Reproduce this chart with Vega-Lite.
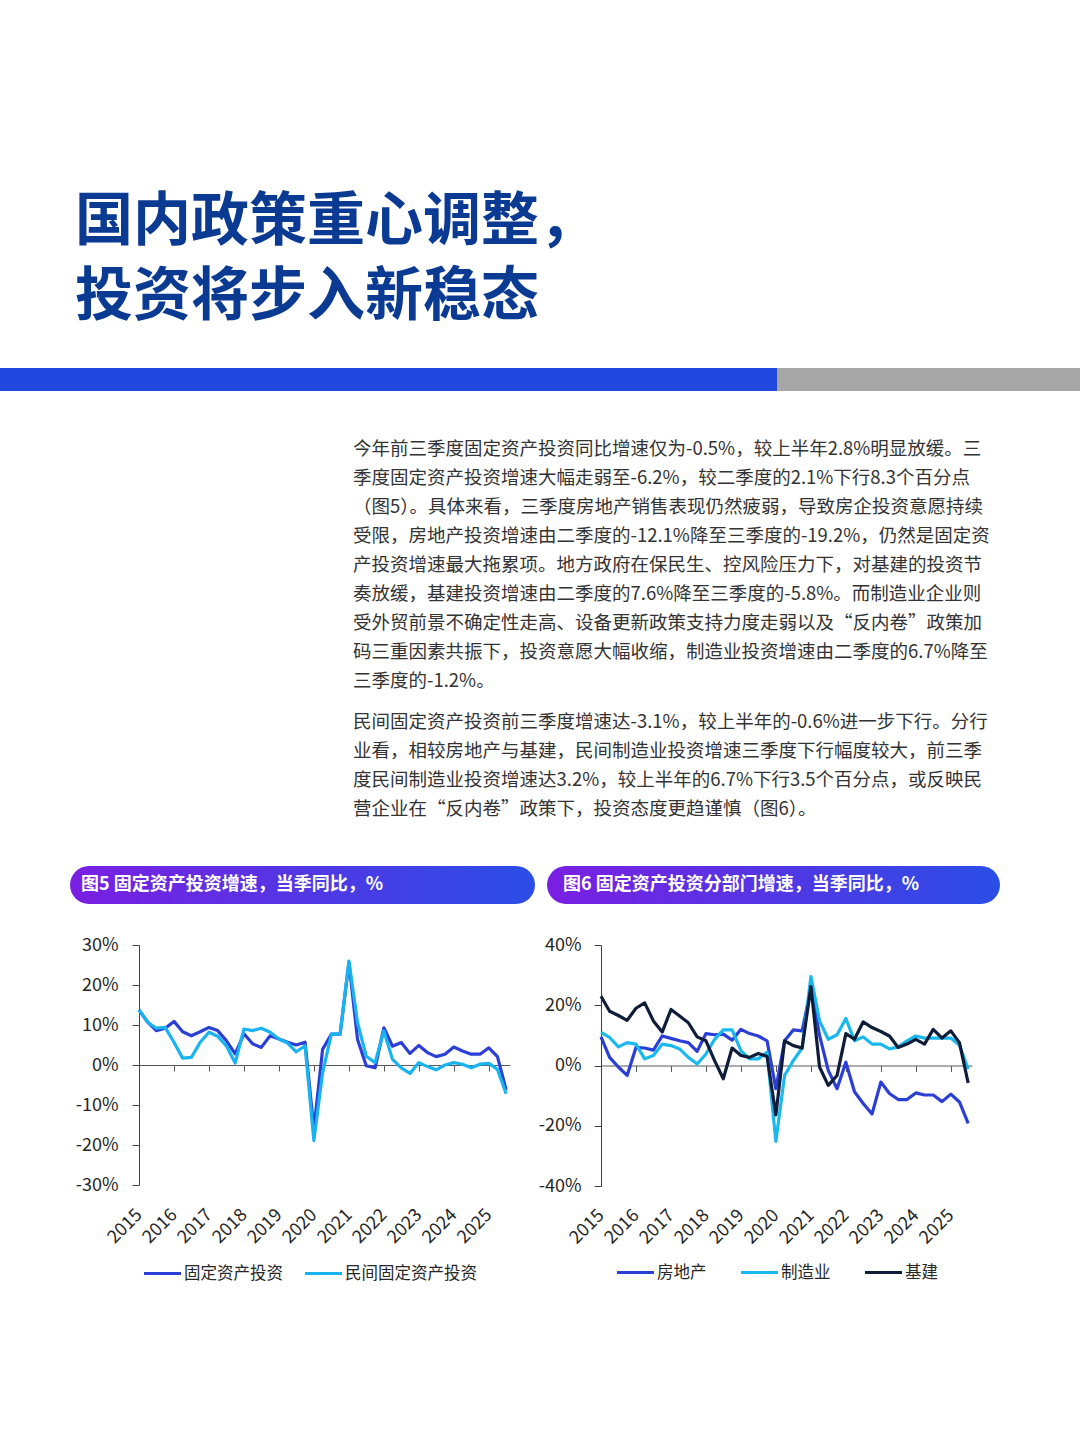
{
  "$schema": "https://vega.github.io/schema/vega-lite/v6.json",
  "background": "#ffffff",
  "padding": {"left": 0, "top": 194, "right": 0, "bottom": 0},
  "config": {
    "font": "Noto Sans CJK SC",
    "view": {"stroke": null},
    "axis": {"labelFont": "Noto Sans CJK SC", "labelFontSize": 18, "labelColor": "#262626", "domainColor": "#404040", "tickColor": "#404040", "grid": false},
    "legend": {"labelFont": "Noto Sans CJK SC", "labelFontSize": 16.5, "labelColor": "#262626", "symbolType": "stroke", "symbolSize": 1369, "symbolStrokeWidth": 4, "labelOffset": 1, "labelLimit": 300},
    "line": {"strokeWidth": 3.2, "strokeJoin": "round"}
  },
  "datasets": {
    "f5": [
      {"q":"2015-01-01","s":"固定资产投资","v":13.8},{"q":"2015-04-01","s":"固定资产投资","v":10.7},{"q":"2015-07-01","s":"固定资产投资","v":8.6},{"q":"2015-10-01","s":"固定资产投资","v":9.2},
      {"q":"2016-01-01","s":"固定资产投资","v":10.9},{"q":"2016-04-01","s":"固定资产投资","v":8.3},{"q":"2016-07-01","s":"固定资产投资","v":7.3},{"q":"2016-10-01","s":"固定资产投资","v":8.3},
      {"q":"2017-01-01","s":"固定资产投资","v":9.4},{"q":"2017-04-01","s":"固定资产投资","v":8.6},{"q":"2017-07-01","s":"固定资产投资","v":6.1},{"q":"2017-10-01","s":"固定资产投资","v":2.8},
      {"q":"2018-01-01","s":"固定资产投资","v":7.8},{"q":"2018-04-01","s":"固定资产投资","v":5.3},{"q":"2018-07-01","s":"固定资产投资","v":4.4},{"q":"2018-10-01","s":"固定资产投资","v":7.3},
      {"q":"2019-01-01","s":"固定资产投资","v":6.5},{"q":"2019-04-01","s":"固定资产投资","v":5.7},{"q":"2019-07-01","s":"固定资产投资","v":5.0},{"q":"2019-10-01","s":"固定资产投资","v":5.7},
      {"q":"2020-01-01","s":"固定资产投资","v":-16.1},{"q":"2020-04-01","s":"固定资产投资","v":3.9},{"q":"2020-07-01","s":"固定资产投资","v":7.7},{"q":"2020-10-01","s":"固定资产投资","v":7.7},
      {"q":"2021-01-01","s":"固定资产投资","v":25.6},{"q":"2021-04-01","s":"固定资产投资","v":6.4},{"q":"2021-07-01","s":"固定资产投资","v":-0.2},{"q":"2021-10-01","s":"固定资产投资","v":-0.7},
      {"q":"2022-01-01","s":"固定资产投资","v":9.3},{"q":"2022-04-01","s":"固定资产投资","v":4.7},{"q":"2022-07-01","s":"固定资产投资","v":5.6},{"q":"2022-10-01","s":"固定资产投资","v":2.9},
      {"q":"2023-01-01","s":"固定资产投资","v":4.9},{"q":"2023-04-01","s":"固定资产投资","v":3.1},{"q":"2023-07-01","s":"固定资产投资","v":2.1},{"q":"2023-10-01","s":"固定资产投资","v":2.7},
      {"q":"2024-01-01","s":"固定资产投资","v":4.5},{"q":"2024-04-01","s":"固定资产投资","v":3.5},{"q":"2024-07-01","s":"固定资产投资","v":2.7},{"q":"2024-10-01","s":"固定资产投资","v":2.7},
      {"q":"2025-01-01","s":"固定资产投资","v":4.3},{"q":"2025-04-01","s":"固定资产投资","v":2.1},{"q":"2025-07-01","s":"固定资产投资","v":-6.2},
      {"q":"2015-01-01","s":"民间固定资产投资","v":13.8},{"q":"2015-04-01","s":"民间固定资产投资","v":10.7},{"q":"2015-07-01","s":"民间固定资产投资","v":9.2},{"q":"2015-10-01","s":"民间固定资产投资","v":9.4},
      {"q":"2016-01-01","s":"民间固定资产投资","v":5.7},{"q":"2016-04-01","s":"民间固定资产投资","v":1.7},{"q":"2016-07-01","s":"民间固定资产投资","v":1.9},{"q":"2016-10-01","s":"民间固定资产投资","v":5.7},
      {"q":"2017-01-01","s":"民间固定资产投资","v":8.2},{"q":"2017-04-01","s":"民间固定资产投资","v":7.2},{"q":"2017-07-01","s":"民间固定资产投资","v":4.8},{"q":"2017-10-01","s":"民间固定资产投资","v":0.5},
      {"q":"2018-01-01","s":"民间固定资产投资","v":9.0},{"q":"2018-04-01","s":"民间固定资产投资","v":8.6},{"q":"2018-07-01","s":"民间固定资产投资","v":9.2},{"q":"2018-10-01","s":"民间固定资产投资","v":8.2},
      {"q":"2019-01-01","s":"民间固定资产投资","v":6.5},{"q":"2019-04-01","s":"民间固定资产投资","v":5.5},{"q":"2019-07-01","s":"民间固定资产投资","v":3.3},{"q":"2019-10-01","s":"民间固定资产投资","v":4.8},
      {"q":"2020-01-01","s":"民间固定资产投资","v":-18.9},{"q":"2020-04-01","s":"民间固定资产投资","v":-2.0},{"q":"2020-07-01","s":"民间固定资产投资","v":7.7},{"q":"2020-10-01","s":"民间固定资产投资","v":7.7},
      {"q":"2021-01-01","s":"民间固定资产投资","v":26.0},{"q":"2021-04-01","s":"民间固定资产投资","v":10.6},{"q":"2021-07-01","s":"民间固定资产投资","v":2.2},{"q":"2021-10-01","s":"民间固定资产投资","v":0.6},
      {"q":"2022-01-01","s":"民间固定资产投资","v":8.5},{"q":"2022-04-01","s":"民间固定资产投资","v":1.4},{"q":"2022-07-01","s":"民间固定资产投资","v":-0.7},{"q":"2022-10-01","s":"民间固定资产投资","v":-2.1},
      {"q":"2023-01-01","s":"民间固定资产投资","v":0.6},{"q":"2023-04-01","s":"民间固定资产投资","v":-0.4},{"q":"2023-07-01","s":"民间固定资产投资","v":-1.2},{"q":"2023-10-01","s":"民间固定资产投资","v":0.0},
      {"q":"2024-01-01","s":"民间固定资产投资","v":0.6},{"q":"2024-04-01","s":"民间固定资产投资","v":0.2},{"q":"2024-07-01","s":"民间固定资产投资","v":-0.7},{"q":"2024-10-01","s":"民间固定资产投资","v":0.2},
      {"q":"2025-01-01","s":"民间固定资产投资","v":0.4},{"q":"2025-04-01","s":"民间固定资产投资","v":-1.1},{"q":"2025-07-01","s":"民间固定资产投资","v":-7.2}
    ],
    "f6": [
      {"q":"2015-01-01","s":"房地产","v":9.5},{"q":"2015-04-01","s":"房地产","v":2.7},{"q":"2015-07-01","s":"房地产","v":-0.5},{"q":"2015-10-01","s":"房地产","v":-3.3},
      {"q":"2016-01-01","s":"房地产","v":6.0},{"q":"2016-04-01","s":"房地产","v":5.8},{"q":"2016-07-01","s":"房地产","v":5.1},{"q":"2016-10-01","s":"房地产","v":9.8},
      {"q":"2017-01-01","s":"房地产","v":9.0},{"q":"2017-04-01","s":"房地产","v":8.2},{"q":"2017-07-01","s":"房地产","v":7.6},{"q":"2017-10-01","s":"房地产","v":4.7},
      {"q":"2018-01-01","s":"房地产","v":10.6},{"q":"2018-04-01","s":"房地产","v":10.2},{"q":"2018-07-01","s":"房地产","v":10.4},{"q":"2018-10-01","s":"房地产","v":8.4},
      {"q":"2019-01-01","s":"房地产","v":12.0},{"q":"2019-04-01","s":"房地产","v":10.6},{"q":"2019-07-01","s":"房地产","v":9.8},{"q":"2019-10-01","s":"房地产","v":8.2},
      {"q":"2020-01-01","s":"房地产","v":-7.7},{"q":"2020-04-01","s":"房地产","v":8.2},{"q":"2020-07-01","s":"房地产","v":11.8},{"q":"2020-10-01","s":"房地产","v":11.5},
      {"q":"2021-01-01","s":"房地产","v":25.6},{"q":"2021-04-01","s":"房地产","v":10.0},{"q":"2021-07-01","s":"房地产","v":-1.6},{"q":"2021-10-01","s":"房地产","v":-7.7},
      {"q":"2022-01-01","s":"房地产","v":1.1},{"q":"2022-04-01","s":"房地产","v":-8.7},{"q":"2022-07-01","s":"房地产","v":-12.6},{"q":"2022-10-01","s":"房地产","v":-16.1},
      {"q":"2023-01-01","s":"房地产","v":-5.5},{"q":"2023-04-01","s":"房地产","v":-9.3},{"q":"2023-07-01","s":"房地产","v":-11.3},{"q":"2023-10-01","s":"房地产","v":-11.3},
      {"q":"2024-01-01","s":"房地产","v":-9.1},{"q":"2024-04-01","s":"房地产","v":-9.8},{"q":"2024-07-01","s":"房地产","v":-9.8},{"q":"2024-10-01","s":"房地产","v":-12.0},
      {"q":"2025-01-01","s":"房地产","v":-9.5},{"q":"2025-04-01","s":"房地产","v":-12.1},{"q":"2025-07-01","s":"房地产","v":-19.2},
      {"q":"2015-01-01","s":"制造业","v":11.0},{"q":"2015-04-01","s":"制造业","v":9.3},{"q":"2015-07-01","s":"制造业","v":6.2},{"q":"2015-10-01","s":"制造业","v":7.6},
      {"q":"2016-01-01","s":"制造业","v":7.1},{"q":"2016-04-01","s":"制造业","v":2.2},{"q":"2016-07-01","s":"制造业","v":3.3},{"q":"2016-10-01","s":"制造业","v":7.1},
      {"q":"2017-01-01","s":"制造业","v":6.6},{"q":"2017-04-01","s":"制造业","v":5.5},{"q":"2017-07-01","s":"制造业","v":2.7},{"q":"2017-10-01","s":"制造业","v":0.5},
      {"q":"2018-01-01","s":"制造业","v":3.8},{"q":"2018-04-01","s":"制造业","v":8.7},{"q":"2018-07-01","s":"制造业","v":11.8},{"q":"2018-10-01","s":"制造业","v":11.8},
      {"q":"2019-01-01","s":"制造业","v":4.9},{"q":"2019-04-01","s":"制造业","v":2.2},{"q":"2019-07-01","s":"制造业","v":2.2},{"q":"2019-10-01","s":"制造业","v":4.4},
      {"q":"2020-01-01","s":"制造业","v":-25.2},{"q":"2020-04-01","s":"制造业","v":-3.3},{"q":"2020-07-01","s":"制造业","v":1.6},{"q":"2020-10-01","s":"制造业","v":5.8},
      {"q":"2021-01-01","s":"制造业","v":29.5},{"q":"2021-04-01","s":"制造业","v":14.8},{"q":"2021-07-01","s":"制造业","v":8.7},{"q":"2021-10-01","s":"制造业","v":10.2},
      {"q":"2022-01-01","s":"制造业","v":15.6},{"q":"2022-04-01","s":"制造业","v":8.2},{"q":"2022-07-01","s":"制造业","v":9.5},{"q":"2022-10-01","s":"制造业","v":7.1},
      {"q":"2023-01-01","s":"制造业","v":7.1},{"q":"2023-04-01","s":"制造业","v":5.5},{"q":"2023-07-01","s":"制造业","v":6.2},{"q":"2023-10-01","s":"制造业","v":8.2},
      {"q":"2024-01-01","s":"制造业","v":9.8},{"q":"2024-04-01","s":"制造业","v":9.1},{"q":"2024-07-01","s":"制造业","v":9.1},{"q":"2024-10-01","s":"制造业","v":9.1},
      {"q":"2025-01-01","s":"制造业","v":9.1},{"q":"2025-04-01","s":"制造业","v":6.7},{"q":"2025-07-01","s":"制造业","v":-1.2},
      {"q":"2015-01-01","s":"基建","v":23.0},{"q":"2015-04-01","s":"基建","v":18.0},{"q":"2015-07-01","s":"基建","v":16.6},{"q":"2015-10-01","s":"基建","v":15.0},
      {"q":"2016-01-01","s":"基建","v":19.0},{"q":"2016-04-01","s":"基建","v":20.8},{"q":"2016-07-01","s":"基建","v":14.8},{"q":"2016-10-01","s":"基建","v":11.1},
      {"q":"2017-01-01","s":"基建","v":18.6},{"q":"2017-04-01","s":"基建","v":16.4},{"q":"2017-07-01","s":"基建","v":14.2},{"q":"2017-10-01","s":"基建","v":9.5},
      {"q":"2018-01-01","s":"基建","v":8.2},{"q":"2018-04-01","s":"基建","v":1.6},{"q":"2018-07-01","s":"基建","v":-4.4},{"q":"2018-10-01","s":"基建","v":5.8},
      {"q":"2019-01-01","s":"基建","v":3.3},{"q":"2019-04-01","s":"基建","v":2.7},{"q":"2019-07-01","s":"基建","v":4.0},{"q":"2019-10-01","s":"基建","v":3.0},
      {"q":"2020-01-01","s":"基建","v":-16.4},{"q":"2020-04-01","s":"基建","v":8.2},{"q":"2020-07-01","s":"基建","v":6.6},{"q":"2020-10-01","s":"基建","v":5.8},
      {"q":"2021-01-01","s":"基建","v":26.2},{"q":"2021-04-01","s":"基建","v":-0.5},{"q":"2021-07-01","s":"基建","v":-6.6},{"q":"2021-10-01","s":"基建","v":-3.3},
      {"q":"2022-01-01","s":"基建","v":10.6},{"q":"2022-04-01","s":"基建","v":8.7},{"q":"2022-07-01","s":"基建","v":14.5},{"q":"2022-10-01","s":"基建","v":12.6},
      {"q":"2023-01-01","s":"基建","v":11.3},{"q":"2023-04-01","s":"基建","v":9.8},{"q":"2023-07-01","s":"基建","v":6.0},{"q":"2023-10-01","s":"基建","v":7.1},
      {"q":"2024-01-01","s":"基建","v":8.7},{"q":"2024-04-01","s":"基建","v":7.1},{"q":"2024-07-01","s":"基建","v":12.0},{"q":"2024-10-01","s":"基建","v":9.1},
      {"q":"2025-01-01","s":"基建","v":11.5},{"q":"2025-04-01","s":"基建","v":7.6},{"q":"2025-07-01","s":"基建","v":-5.8}
    ]
  },
  "spacing": 32,
  "vconcat": [
    {
      "title": {
        "text": ["国内政策重心调整，", "投资将步入新稳态"],
        "anchor": "start", "frame": "group", "dx": 75,
        "font": "Noto Sans CJK SC", "fontSize": 58, "fontWeight": "bold",
        "color": "#0a3a92", "lineHeight": 75, "offset": 41
      },
      "spacing": 0,
      "hconcat": [
        {
          "width": 777, "height": 40,
          "data": {"values": [{"part": "蓝"}]},
          "mark": {"type": "rect", "color": "#2149e0"},
          "encoding": {"x": {"value": 0}, "x2": {"value": "width"}, "y": {"value": 0}, "y2": {"value": 23}}
        },
        {
          "width": 303, "height": 40,
          "data": {"values": [{"part": "灰"}]},
          "mark": {"type": "rect", "color": "#a6a6a6"},
          "encoding": {"x": {"value": 0}, "x2": {"value": "width"}, "y": {"value": 0}, "y2": {"value": 23}}
        }
      ]
    },
    {
      "title": {
        "text": [
          "今年前三季度固定资产投资同比增速仅为-0.5%，较上半年2.8%明显放缓。三",
          "季度固定资产投资增速大幅走弱至-6.2%，较二季度的2.1%下行8.3个百分点",
          "（图5）。具体来看，三季度房地产销售表现仍然疲弱，导致房企投资意愿持续",
          "受限，房地产投资增速由二季度的-12.1%降至三季度的-19.2%，仍然是固定资",
          "产投资增速最大拖累项。地方政府在保民生、控风险压力下，对基建的投资节",
          "奏放缓，基建投资增速由二季度的7.6%降至三季度的-5.8%。而制造业企业则",
          "受外贸前景不确定性走高、设备更新政策支持力度走弱以及“反内卷”政策加",
          "码三重因素共振下，投资意愿大幅收缩，制造业投资增速由二季度的6.7%降至",
          "三季度的-1.2%。"
        ],
        "subtitle": [
          "民间固定资产投资前三季度增速达-3.1%，较上半年的-0.6%进一步下行。分行",
          "业看，相较房地产与基建，民间制造业投资增速三季度下行幅度较大，前三季",
          "度民间制造业投资增速达3.2%，较上半年的6.7%下行3.5个百分点，或反映民",
          "营企业在“反内卷”政策下，投资态度更趋谨慎（图6）。"
        ],
        "anchor": "start", "frame": "group", "dx": 353,
        "font": "Noto Sans CJK SC", "fontSize": 18.5, "fontWeight": "normal", "color": "#333333", "lineHeight": 29,
        "subtitleFont": "Noto Sans CJK SC", "subtitleFontSize": 18.5, "subtitleColor": "#333333", "subtitleLineHeight": 29,
        "subtitlePadding": 22, "offset": 48
      },
      "spacing": 12,
      "hconcat": [
        {
          "width": 535, "height": 38,
          "data": {"values": [{"label": "图5 固定资产投资增速，当季同比，%"}]},
          "layer": [
            {
              "mark": {"type": "rect", "cornerRadius": 19,
                "color": {"gradient": "linear", "x1": 0, "y1": 0, "x2": 1, "y2": 0,
                  "stops": [{"offset": 0, "color": "#7a1fe2"}, {"offset": 1, "color": "#2a4ee6"}]}},
              "encoding": {"x": {"value": 70}, "x2": {"value": "width"}, "y": {"value": 0}, "y2": {"value": "height"}}
            },
            {
              "mark": {"type": "text", "align": "left", "baseline": "middle", "fontSize": 18, "fontWeight": "bold", "color": "#ffffff"},
              "encoding": {"text": {"field": "label"}, "x": {"value": 81}, "y": {"value": 19}}
            }
          ]
        },
        {
          "width": 453, "height": 38,
          "data": {"values": [{"label": "图6 固定资产投资分部门增速，当季同比，%"}]},
          "layer": [
            {
              "mark": {"type": "rect", "cornerRadius": 19,
                "color": {"gradient": "linear", "x1": 0, "y1": 0, "x2": 1, "y2": 0,
                  "stops": [{"offset": 0, "color": "#7a1fe2"}, {"offset": 1, "color": "#2a4ee6"}]}},
              "encoding": {"x": {"value": 0}, "x2": {"value": "width"}, "y": {"value": 0}, "y2": {"value": "height"}}
            },
            {
              "mark": {"type": "text", "align": "left", "baseline": "middle", "fontSize": 18, "fontWeight": "bold", "color": "#ffffff"},
              "encoding": {"text": {"field": "label"}, "x": {"value": 16}, "y": {"value": 19}}
            }
          ]
        }
      ]
    },
    {
      "bounds": "flush",
      "spacing": 91,
      "resolve": {"scale": {"color": "independent"}, "legend": {"color": "independent"}},
      "hconcat": [
        {
          "width": 48, "height": 240,
          "data": {"values": []},
          "mark": "point"
        },
        {
          "width": 371, "height": 240,
          "data": {"name": "f5"},
          "encoding": {
            "x": {
              "field": "q", "type": "temporal",
              "scale": {"type": "utc", "domain": [{"year": 2015, "month": 1, "date": 1, "utc": true}, {"year": 2025, "month": 8, "date": 10, "utc": true}]},
              "axis": {
                "orient": "bottom", "offset": -120, "title": null, "format": "%Y",
                "values": [
                  {"year": 2015, "month": 1, "date": 1, "utc": true}, {"year": 2016, "month": 1, "date": 1, "utc": true},
                  {"year": 2017, "month": 1, "date": 1, "utc": true}, {"year": 2018, "month": 1, "date": 1, "utc": true},
                  {"year": 2019, "month": 1, "date": 1, "utc": true}, {"year": 2020, "month": 1, "date": 1, "utc": true},
                  {"year": 2021, "month": 1, "date": 1, "utc": true}, {"year": 2022, "month": 1, "date": 1, "utc": true},
                  {"year": 2023, "month": 1, "date": 1, "utc": true}, {"year": 2024, "month": 1, "date": 1, "utc": true},
                  {"year": 2025, "month": 1, "date": 1, "utc": true}
                ],
                "labelAngle": -45, "labelAlign": "right", "labelBaseline": "middle", "labelPadding": 141,
                "labelFlush": false, "labelOverlap": false, "tickSize": 6, "domainColor": "#595959", "tickColor": "#595959", "domainWidth": 1.2
              }
            },
            "y": {
              "field": "v", "type": "quantitative",
              "scale": {"domain": [-30, 30], "nice": false, "zero": false},
              "axis": {"title": null, "values": [-30, -20, -10, 0, 10, 20, 30], "labelExpr": "datum.value + '%'", "tickSize": 7, "labelPadding": 14}
            },
            "color": {
              "field": "s", "type": "nominal",
              "scale": {"domain": ["固定资产投资", "民间固定资产投资"], "range": ["#2b3fd6", "#19b4ef"]},
              "legend": {"orient": "none", "legendX": 3, "legendY": 308, "direction": "horizontal", "title": null, "columnPadding": 20}
            }
          },
          "layer": [
            {"transform": [{"filter": {"field": "s", "equal": "固定资产投资"}}], "mark": {"type": "line"}},
            {"transform": [{"filter": {"field": "s", "equal": "民间固定资产投资"}}], "mark": {"type": "line"}}
          ]
        },
        {
          "width": 371, "height": 241,
          "data": {"name": "f6"},
          "encoding": {
            "x": {
              "field": "q", "type": "temporal",
              "scale": {"type": "utc", "domain": [{"year": 2015, "month": 1, "date": 1, "utc": true}, {"year": 2025, "month": 8, "date": 10, "utc": true}]},
              "axis": {
                "orient": "bottom", "offset": -120.5, "title": null, "format": "%Y",
                "values": [
                  {"year": 2015, "month": 1, "date": 1, "utc": true}, {"year": 2016, "month": 1, "date": 1, "utc": true},
                  {"year": 2017, "month": 1, "date": 1, "utc": true}, {"year": 2018, "month": 1, "date": 1, "utc": true},
                  {"year": 2019, "month": 1, "date": 1, "utc": true}, {"year": 2020, "month": 1, "date": 1, "utc": true},
                  {"year": 2021, "month": 1, "date": 1, "utc": true}, {"year": 2022, "month": 1, "date": 1, "utc": true},
                  {"year": 2023, "month": 1, "date": 1, "utc": true}, {"year": 2024, "month": 1, "date": 1, "utc": true},
                  {"year": 2025, "month": 1, "date": 1, "utc": true}
                ],
                "labelAngle": -45, "labelAlign": "right", "labelBaseline": "middle", "labelPadding": 141,
                "labelFlush": false, "labelOverlap": false, "tickSize": 6, "domainColor": "#595959", "tickColor": "#595959", "domainWidth": 1.2
              }
            },
            "y": {
              "field": "v", "type": "quantitative",
              "scale": {"domain": [-40, 40], "nice": false, "zero": false},
              "axis": {"title": null, "values": [-40, -20, 0, 20, 40], "labelExpr": "datum.value + '%'", "tickSize": 7, "labelPadding": 13}
            },
            "color": {
              "field": "s", "type": "nominal",
              "scale": {"domain": ["房地产", "制造业", "基建"], "range": ["#2b3fd6", "#19b8ee", "#0f1d3a"]},
              "legend": {"orient": "none", "legendX": 14, "legendY": 307, "direction": "horizontal", "title": null, "columnPadding": 32}
            }
          },
          "layer": [
            {"transform": [{"filter": {"field": "s", "equal": "房地产"}}], "mark": {"type": "line"}},
            {"transform": [{"filter": {"field": "s", "equal": "制造业"}}], "mark": {"type": "line"}},
            {"transform": [{"filter": {"field": "s", "equal": "基建"}}], "mark": {"type": "line"}}
          ]
        }
      ]
    }
  ]
}
